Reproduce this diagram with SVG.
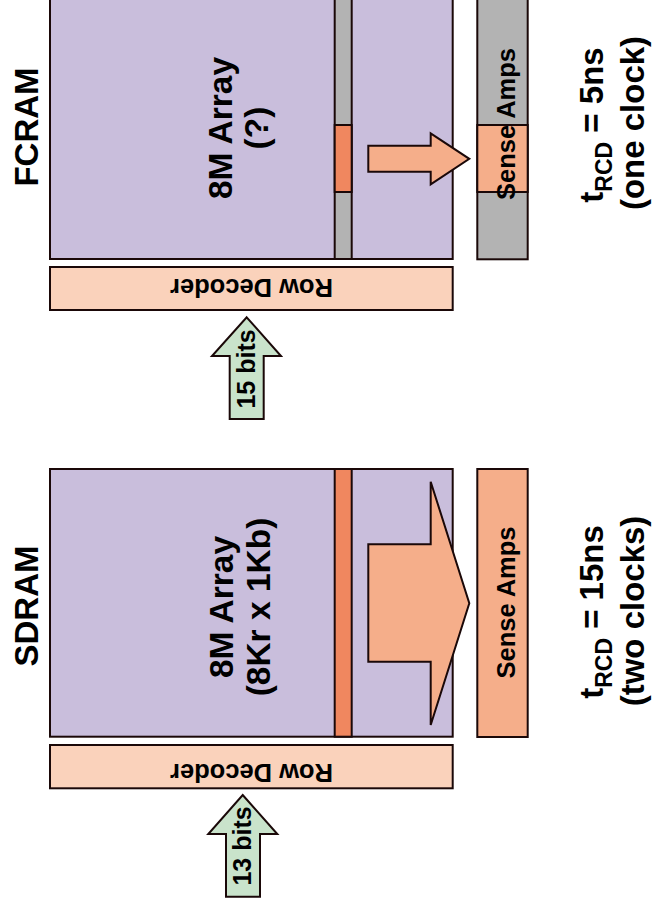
<svg xmlns="http://www.w3.org/2000/svg" width="654" height="906" viewBox="0 0 654 906">
<style>
.box{stroke:#1a0808;stroke-width:2}
.arr{fill:#C9BEDC}
.dec{fill:#FAD2BB}
.amp{fill:#F5AE8A}
.row{fill:#F0875F}
.gry{fill:#B3B3B3}
.grn{fill:#C9E3CB}
text{font-family:"Liberation Sans",Arial,sans-serif;fill:#000;text-anchor:middle}
.b{font-weight:bold}
.t33{font-size:33px}
.t34{font-size:33.5px}
.t25{font-size:25.5px}
.t26{font-size:25.5px}
.t24{font-size:25px}
</style>
<g id="fcram">
  <text class="b t33" transform="translate(38,127) rotate(-90)">FCRAM</text>
  <g id="fcram-array">
    <rect class="box arr" x="50" y="-10" width="402.7" height="269"/>
    <rect class="box gry" x="334.7" y="-10" width="17" height="269"/>
    <rect class="box row" x="334.7" y="125" width="17" height="67"/>
    <text class="b t34" transform="translate(232,128) rotate(-90)">8M Array</text>
    <text class="b t34" transform="translate(268,128) rotate(-90)">(?)</text>
  </g>
  <g id="fcram-decoder">
    <rect class="box dec" x="50" y="267" width="402.7" height="43"/>
    <text class="b t26" transform="translate(251.5,278.5) rotate(180)">Row Decoder</text>
  </g>
  <g id="fcram-amps">
    <rect class="box gry" x="477.3" y="-10" width="50.4" height="269.3"/>
    <rect class="box amp" x="477.3" y="125" width="50.4" height="67"/>
    <text class="b t25" transform="translate(514.5,124) rotate(-90)">Sense Amps</text>
  </g>
  <g id="fcram-trcd">
    <text class="b t33" transform="translate(603,125) rotate(-90)">t<tspan font-size="23" dy="9">RCD</tspan><tspan dy="-9"> = 5ns</tspan></text>
    <text class="b t33" transform="translate(644,123) rotate(-90)">(one clock)</text>
  </g>
</g>
<g id="sdram">
  <text class="b t33" transform="translate(38,606) rotate(-90)">SDRAM</text>
  <g id="sdram-array">
    <rect class="box arr" x="50" y="469" width="402.7" height="267.7"/>
    <rect class="box row" x="334.7" y="469" width="17" height="267.7"/>
    <text class="b t34" transform="translate(233,607) rotate(-90)">8M Array</text>
    <text class="b t34" transform="translate(270,607) rotate(-90)">(8Kr x 1Kb)</text>
  </g>
  <g id="sdram-decoder">
    <rect class="box dec" x="50" y="745" width="402.7" height="43.3"/>
    <text class="b t26" transform="translate(251.5,763.5) rotate(180)">Row Decoder</text>
  </g>
  <g id="sdram-amps">
    <rect class="box amp" x="477.3" y="469" width="50.4" height="268"/>
    <text class="b t25" transform="translate(514.5,602.5) rotate(-90)">Sense Amps</text>
  </g>
  <g id="sdram-trcd">
    <text class="b t33" transform="translate(603,612) rotate(-90)">t<tspan font-size="23" dy="9">RCD</tspan><tspan dy="-9"> = 15ns</tspan></text>
    <text class="b t33" transform="translate(644,611) rotate(-90)">(two clocks)</text>
  </g>
</g>
<g id="connectors">
  <path class="box amp" d="M368.3,145.7 L430.7,145.7 L430.7,133.3 L469.3,158.8 L430.7,184.3 L430.7,171.7 L368.3,171.7 Z"/>
  <path class="box amp" d="M368.3,544.3 L430.7,544.3 L430.7,481.7 L469.3,603.3 L430.7,725 L430.7,661.7 L368.3,661.7 Z"/>
  <g id="bits15">
    <path class="box grn" d="M246.7,317.3 L281,356 L263.7,356 L263.7,419 L229.7,419 L229.7,356 L212,356 Z"/>
    <text class="b t24" transform="translate(254.5,369) rotate(-90)">15 bits</text>
  </g>
  <g id="bits13">
    <path class="box grn" d="M242.7,795 L277.3,834 L260,834 L260,896.7 L226,896.7 L226,834 L208.3,834 Z"/>
    <text class="b t24" transform="translate(251,846) rotate(-90)">13 bits</text>
  </g>
</g>
</svg>
